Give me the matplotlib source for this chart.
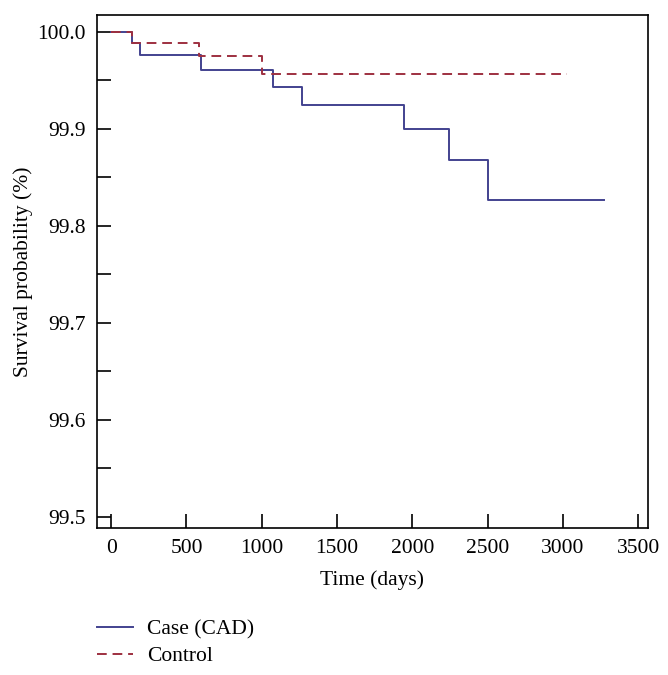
import numpy as np
import matplotlib
matplotlib.use("Agg")
import matplotlib.pyplot as plt
from matplotlib.ticker import MultipleLocator

plt.rcParams['font.family'] = ['Liberation Serif', 'DejaVu Serif']

# Kaplan-Meier style step data (days, survival %)
case_days = [0, 141, 193, 598, 1076, 1266, 1946, 2243, 2500, 3273]
case_surv = [100.0, 99.988, 99.976, 99.9605, 99.9427, 99.9244, 99.9002, 99.868, 99.8265, 99.8265]
ctrl_days = [0, 141, 584, 1005, 3030]
ctrl_surv = [100.0, 99.988, 99.975, 99.957, 99.957]

x_ticks = [0, 500, 1000, 1500, 2000, 2500, 3000, 3500]
y_ticks = [99.5, 99.6, 99.7, 99.8, 99.9, 100.0]

blue = "#42428f"
red = "#9e3040"
fs = 15.5

fig = plt.figure(figsize=(6.68, 6.75), dpi=100)
ax = fig.add_axes([0.145, 0.218, 0.825, 0.760])

ax.step(case_days, case_surv, where='post', color=blue, lw=1.4, label="Case (CAD)")
ax.step(ctrl_days, ctrl_surv, where='post', color=red, lw=1.4,
        dashes=(5, 3), label="Control")

ax.set_xlim(-95, 3565)
ax.set_ylim(99.4886, 100.0175)
ax.set_xticks(x_ticks)
ax.set_yticks(y_ticks)
ax.set_yticklabels([f"{v:.1f}" for v in y_ticks])
ax.yaxis.set_minor_locator(MultipleLocator(0.05))
ax.tick_params(axis='both', which='both', direction='in', length=10, width=1.2,
               labelsize=fs, top=False, right=False)
ax.tick_params(axis='y', pad=8)
ax.tick_params(axis='x', pad=8)
for s in ax.spines.values():
    s.set_linewidth(1.2)

ax.set_xlabel("Time (days)", fontsize=fs, labelpad=9)
ax.set_ylabel("Survival probability (%)", fontsize=fs, labelpad=3)

ax.legend(loc='upper left', bbox_to_anchor=(0.132, 0.095), bbox_transform=fig.transFigure,
          frameon=False, fontsize=fs, handlelength=1.7, handletextpad=0.65,
          labelspacing=0.3, borderaxespad=0)

fig.savefig("out.png", dpi=100)
